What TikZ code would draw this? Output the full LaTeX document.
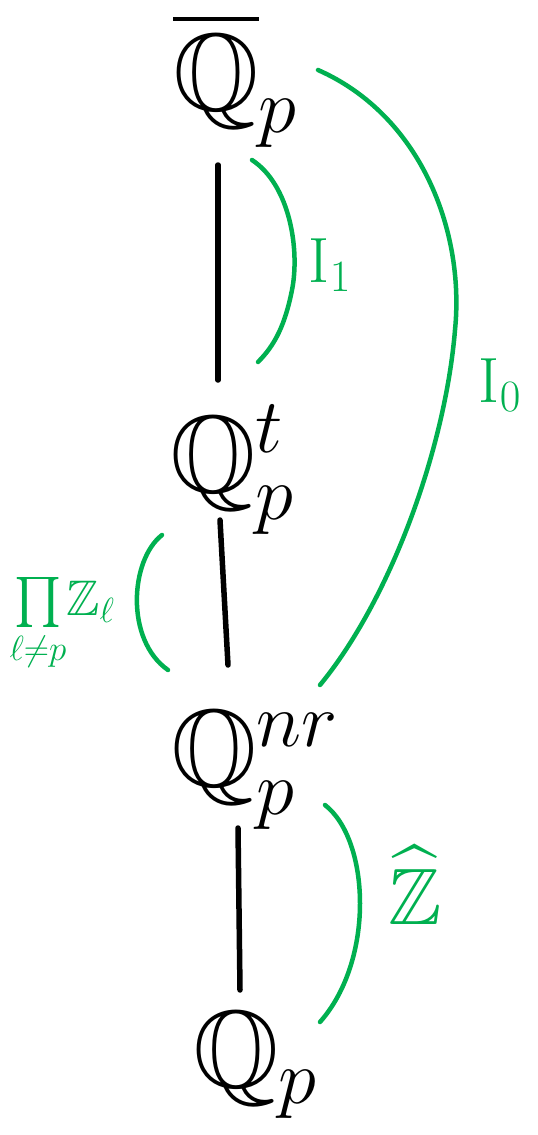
\RequirePackage{fix-cm}
\documentclass[tikz,border=0pt]{standalone}
\usepackage{amssymb}
\definecolor{hgreen}{RGB}{0,176,80}
\tikzset{
  field/.style={inner sep=0pt, font=\fontsize{110}{110}\selectfont},
  glabel/.style={inner sep=0pt, text=hgreen, font=\fontsize{64}{64}\selectfont},
  tower/.style={line width=5.5pt, line cap=round, black},
  garc/.style={line width=4.5pt, line cap=round, hgreen},
}
\begin{document}
\begin{tikzpicture}[x=1pt,y=-1pt]
\useasboundingbox (0,0) rectangle (538,1135);
% fields
\node[field] (qbar) at (235,80) {$\overline{\mathbb{Q}}_p$};
\node[field] (qt) at (232,470) {$\mathbb{Q}_p^t$};
\node[field] (qnr) at (255,770) {$\mathbb{Q}_p^{nr}$};
\node[field] (q) at (255,1065) {$\mathbb{Q}_p$};
% tower lines
\coordinate (l1s) at (218,165); \coordinate (l1e) at (218,380);
\coordinate (l2s) at (220,520); \coordinate (l2e) at (228,665);
\coordinate (l3s) at (238,828); \coordinate (l3e) at (240,990);
\draw[tower] (l1s) -- (l1e);
\draw[tower] (l2s) -- (l2e);
\draw[tower] (l3s) -- (l3e);
% green arcs
\coordinate (a1s) at (252,160); \coordinate (a1e) at (258,362);
\draw[garc] (a1s) .. controls (290,185) and (300,250) .. (292,290) .. controls (285,325) and (275,345) .. (a1e);
\node[glabel] (i1) at (330,265) {$\mathrm{I}_1$};
\coordinate (a0s) at (318,70); \coordinate (a0e) at (320,685);
\draw[garc] (a0s) .. controls (420,115) and (465,230) .. (455,330) .. controls (445,450) and (390,600) .. (a0e);
\node[glabel] (i0) at (500,385) {$\mathrm{I}_0$};
\coordinate (a2s) at (162,535); \coordinate (a2e) at (168,670);
\draw[garc] (a2s) .. controls (130,560) and (125,640) .. (a2e);
\node[glabel, font=\fontsize{50}{50}\selectfont] (prodz) at (62,625) {$\prod\limits_{\ell\neq p}\!\mathbb{Z}_\ell$};
\coordinate (a3s) at (325,805); \coordinate (a3e) at (320,1022);
\draw[garc] (a3s) .. controls (370,840) and (375,960) .. (a3e);
\node[glabel, font=\fontsize{80}{80}\selectfont] (zhat) at (415,885) {$\widehat{\mathbb{Z}}$};
\end{tikzpicture}
\end{document}
